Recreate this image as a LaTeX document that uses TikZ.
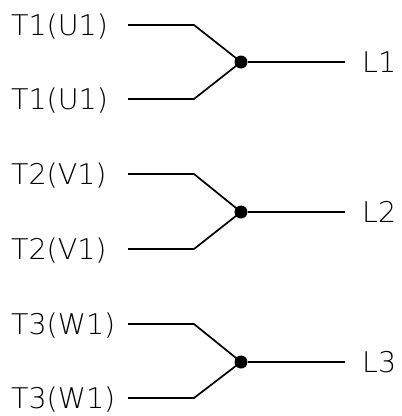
\documentclass[tikz,border=0pt]{standalone}
\usepackage{fontspec}
\setmainfont{DejaVu Sans ExtraLight}
\usetikzlibrary{positioning}
\tikzset{
  wire/.style={line width=1.7pt},
  junction/.style={circle, fill=black, inner sep=0pt, minimum size=13pt},
  term/.style={font=\fontsize{28.5}{30}\selectfont, inner sep=0pt, anchor=base west},
  phase/.style={font=\fontsize{28.5}{30}\selectfont, inner sep=0pt},
}
\begin{document}
\begin{tikzpicture}[x=1pt,y=-1pt]
  \useasboundingbox (0,0) rectangle (402,416);
  % L1
  \node[junction] (dot1) at (241,62) {};
  \coordinate (in1a) at (128,25);
  \coordinate (in1b) at (128,99);
  \coordinate (bend1a) at (194,25);
  \coordinate (bend1b) at (194,99);
  \coordinate (out1) at (345,62);
  \node[term] (lab1a) at (11,35) {T1(U1)};
  \node[term] (lab1b) at (11,109) {T1(U1)};
  \node[phase] (ph1) [right=17pt of out1] {L1};
  \draw[wire] (in1a) -- (bend1a) -- (dot1.center);
  \draw[wire] (in1b) -- (bend1b) -- (dot1.center);
  \draw[wire] (dot1) -- (out1);
  % L2
  \node[junction] (dot2) at (241,212) {};
  \coordinate (in2a) at (128,174);
  \coordinate (in2b) at (128,249);
  \coordinate (bend2a) at (194,174);
  \coordinate (bend2b) at (194,249);
  \coordinate (out2) at (345,212);
  \node[term] (lab2a) at (11,184) {T2(V1)};
  \node[term] (lab2b) at (11,259) {T2(V1)};
  \node[phase] (ph2) [right=17pt of out2] {L2};
  \draw[wire] (in2a) -- (bend2a) -- (dot2.center);
  \draw[wire] (in2b) -- (bend2b) -- (dot2.center);
  \draw[wire] (dot2) -- (out2);
  % L3
  \node[junction] (dot3) at (241,362) {};
  \coordinate (in3a) at (128,324);
  \coordinate (in3b) at (128,398);
  \coordinate (bend3a) at (194,324);
  \coordinate (bend3b) at (194,398);
  \coordinate (out3) at (345,362);
  \node[term] (lab3a) at (11,334) {T3(W1)};
  \node[term] (lab3b) at (11,408) {T3(W1)};
  \node[phase] (ph3) [right=17pt of out3] {L3};
  \draw[wire] (in3a) -- (bend3a) -- (dot3.center);
  \draw[wire] (in3b) -- (bend3b) -- (dot3.center);
  \draw[wire] (dot3) -- (out3);
\end{tikzpicture}
\end{document}
